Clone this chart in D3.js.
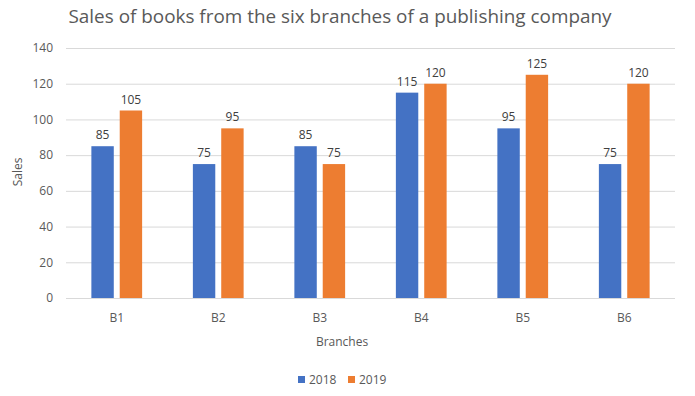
<!DOCTYPE html>
<html lang="en">
    <head>
        <meta charset="utf-8">
        <title>Sales of books</title>
        <script type="text/javascript" src="https://cdn.jsdelivr.net/npm/d3@7"></script>
        <style>
            body { margin: 0; background: white; }
            text { font-family: "Open Sans", sans-serif; }
        </style>
    </head>
    <body>
        <script type="text/javascript">
            const branches = ["B1", "B2", "B3", "B4", "B5", "B6"]
            const seriesNames = ["2018", "2019"]
            const sales2018 = [85, 75, 85, 115, 95, 75]
            const sales2019 = [105, 95, 75, 120, 125, 120]
            const yTicks = [0, 20, 40, 60, 80, 100, 120, 140]
            const colors = ["#4472c4", "#ed7d31"]

            const w = 695
            const h = 396
            const plotLeft = 66, plotRight = 675, plotTop = 48, plotBottom = 298

            let svg = d3.select("body")
                        .append("svg")
                            .attr("width", w)
                            .attr("height", h)

            let x0 = d3.scaleBand()
                       .domain(branches)
                       .range([plotLeft, plotRight])
                       .paddingInner(0.5)
                       .paddingOuter(0.25)
            let x1 = d3.scaleBand()
                       .domain(seriesNames)
                       .range([0, x0.bandwidth()])
                       .paddingInner(0.21)
            let y = d3.scaleLinear()
                      .domain([0, 140])
                      .range([plotBottom, plotTop])

            // gridlines
            svg.append("g")
                .selectAll("line")
                .data(yTicks)
                .enter()
                .append("line")
                    .attr("x1", plotLeft)
                    .attr("x2", plotRight)
                    .attr("y1", d => y(d) + 0.5)
                    .attr("y2", d => y(d) + 0.5)
                    .attr("stroke", "#d9d9d9")
                    .attr("stroke-width", 1)

            // y axis labels
            let yAxis = d3.axisLeft(y).tickValues(yTicks).tickSize(0).tickPadding(0)
            let gy = svg.append("g")
                        .attr("transform", "translate(53,0)")
                        .call(yAxis)
            gy.select(".domain").remove()
            gy.selectAll("text")
                .attr("font-family", "'Open Sans', sans-serif")
                .attr("font-size", "12px")
                .attr("fill", "#595959")

            // x axis labels
            let xAxis = d3.axisBottom(x0).tickSize(0).tickPadding(0)
            let gx = svg.append("g")
                        .attr("transform", "translate(0,313)")
                        .call(xAxis)
            gx.select(".domain").remove()
            gx.selectAll("text")
                .attr("font-family", "'Open Sans', sans-serif")
                .attr("font-size", "12px")
                .attr("fill", "#595959")

            let rows = branches.map((b, i) => ({branch: b, values: [sales2018[i], sales2019[i]]}))

            let groups = svg.append("g")
                            .selectAll("g")
                            .data(rows)
                            .enter()
                            .append("g")
                                .attr("transform", d => "translate(" + x0(d.branch) + ",0)")

            let bars = groups.selectAll("rect")
                             .data(d => d.values.map((v, j) => ({series: seriesNames[j], value: v, j: j})))
                             .enter()

            bars.append("rect")
                .attr("x", d => x1(d.series))
                .attr("y", d => y(d.value))
                .attr("width", x1.bandwidth())
                .attr("height", d => y(0) - y(d.value))
                .attr("fill", d => colors[d.j])

            bars.append("text")
                .attr("x", d => x1(d.series) + x1.bandwidth() / 2)
                .attr("y", d => y(d.value) - 7)
                .attr("text-anchor", "middle")
                .attr("font-size", "12px")
                .attr("fill", "#404040")
                .text(d => d.value)

            // title
            svg.append("text")
                .attr("x", 340)
                .attr("y", 23)
                .attr("text-anchor", "middle")
                .attr("font-size", "18.9px")
                .attr("fill", "#595959")
                .text("Sales of books from the six branches of a publishing company")

            // axis titles
            svg.append("text")
                .attr("x", 342)
                .attr("y", 346)
                .attr("text-anchor", "middle")
                .attr("font-size", "12px")
                .attr("fill", "#595959")
                .text("Branches")
            svg.append("text")
                .attr("transform", "translate(22,172) rotate(-90)")
                .attr("text-anchor", "middle")
                .attr("font-size", "12px")
                .attr("fill", "#595959")
                .text("Sales")

            // legend
            let legend = svg.append("g")
                            .selectAll("g")
                            .data(seriesNames)
                            .enter()
                            .append("g")
                                .attr("transform", (d, i) => "translate(" + (298 + i * 50) + ",376)")
            legend.append("rect")
                .attr("width", 7)
                .attr("height", 7)
                .attr("fill", (d, i) => colors[i])
            legend.append("text")
                .attr("x", 11)
                .attr("y", 7.5)
                .attr("font-size", "12px")
                .attr("fill", "#595959")
                .text(d => d)
        </script>
    </body>
</html>
